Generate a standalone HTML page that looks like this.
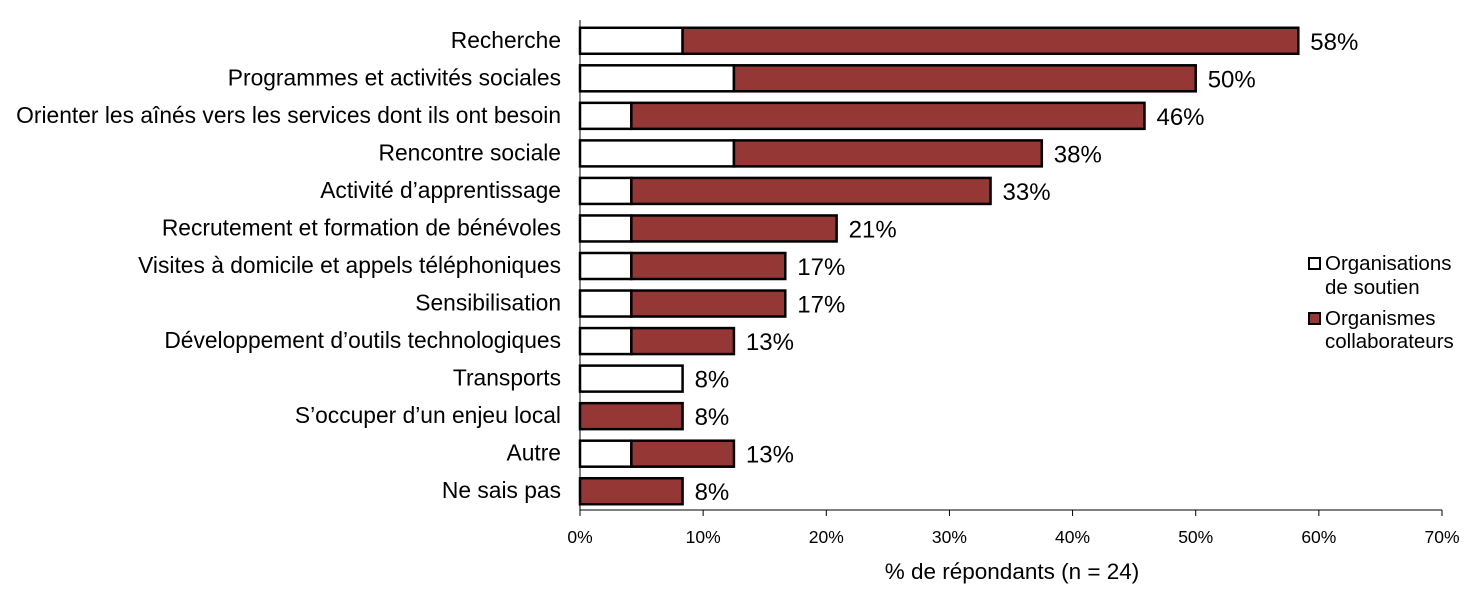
<!DOCTYPE html>
<html><head><meta charset="utf-8"><style>
html,body{margin:0;padding:0;background:#fff;}
svg{display:block;font-family:"Liberation Sans",Arial,sans-serif;}
</style></head><body>
<svg id="chart" width="1484" height="607"></svg>
<script>
const categories=["Recherche","Programmes et activités sociales","Orienter les aînés vers les services dont ils ont besoin","Rencontre sociale","Activité d’apprentissage","Recrutement et formation de bénévoles","Visites à domicile et appels téléphoniques","Sensibilisation","Développement  d’outils technologiques","Transports","S’occuper d’un enjeu local","Autre","Ne sais pas"];
const soutien=[8.33,12.5,4.17,12.5,4.17,4.17,4.17,4.17,4.17,8.33,0,4.17,0];
const collab=[50,37.5,41.67,25,29.17,16.67,12.5,12.5,8.33,0,8.33,8.33,8.33];
const totalLabels=["58%","50%","46%","38%","33%","21%","17%","17%","13%","8%","8%","13%","8%"];
const ticks=[0,10,20,30,40,50,60,70];
const NS="http://www.w3.org/2000/svg";
const svg=document.getElementById('chart');
const x0=580,x1=1442,yTop=22,yBot=510;
const xs=v=>x0+(v/70)*(x1-x0);
const band=(yBot-yTop)/categories.length;
const yc=i=>yTop+band*(i+0.5);
function mk(t,a){const e=document.createElementNS(NS,t);for(const k in a)e.setAttribute(k,a[k]);svg.appendChild(e);return e;}
categories.forEach((c,i)=>{
  const y=yc(i),h=26;
  const t=mk('text',{x:561,y:y+7,'text-anchor':'end','font-size':22.8,fill:'#000'});t.textContent=c;
  
  
  if(soutien[i]>0){const r=mk('rect',{x:xs(0),y:y-h/2,width:xs(soutien[i])-xs(0),height:h,fill:'#fff',stroke:'#000','stroke-width':2.5});
  
  }
  if(collab[i]>0){const r=mk('rect',{x:xs(soutien[i]),y:y-h/2,width:xs(soutien[i]+collab[i])-xs(soutien[i]),height:h,fill:'#953735',stroke:'#000','stroke-width':2.5});
  
  }
  const v=mk('text',{x:xs(soutien[i]+collab[i])+12,y:y+9,'font-size':24,fill:'#000'});v.textContent=totalLabels[i];
  
  
});
const ax=mk('line',{x1:x0,y1:yTop-2,x2:x0,y2:yBot,stroke:'#000','stroke-width':1});


const bx=mk('line',{x1:x0,y1:yBot,x2:x1,y2:yBot,stroke:'#000','stroke-width':1});


ticks.forEach(t=>{
  mk('line',{x1:xs(t),y1:yBot,x2:xs(t),y2:yBot+6,stroke:'#000','stroke-width':1});
  const l=mk('text',{x:xs(t),y:yBot+33,'text-anchor':'middle','font-size':17.5,fill:'#000'});l.textContent=t+'%';
  
  
});
const at=mk('text',{x:1012,y:579,'text-anchor':'middle','font-size':22.5,fill:'#000'});at.textContent='% de répondants (n = 24)';


const l1=mk('rect',{x:1309,y:258,width:11,height:11,fill:'#fff',stroke:'#000','stroke-width':2});


const l2=mk('rect',{x:1309,y:313,width:11,height:11,fill:'#953735',stroke:'#000','stroke-width':2});


[["Organisations",270],["de soutien",294],["Organismes",325],["collaborateurs",348]].forEach(([s,y])=>{
  const t=mk('text',{x:1325,y:y,'font-size':20.5,fill:'#000'});t.textContent=s;
  
  
});
</script>
</body></html>
